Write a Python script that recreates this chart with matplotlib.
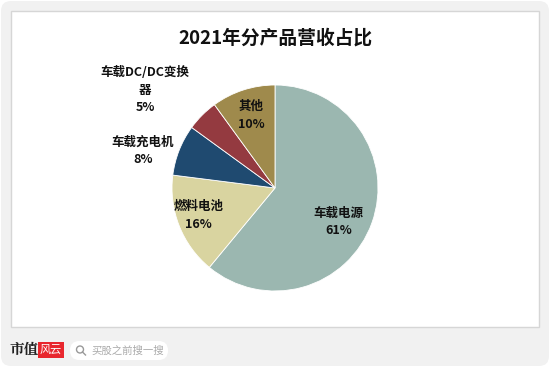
import numpy as np
import matplotlib.pyplot as plt
from matplotlib.patches import FancyBboxPatch, Rectangle

plt.rcParams['font.family'] = ['Noto Sans CJK SC', 'DejaVu Sans']

# data
title = '2021年分产品营收占比'
labels = ['车载电源', '燃料电池', '车载充电机', '车载DC/DC变换\n器', '其他']
shares = [61, 16, 8, 5, 10]
colors = ['#9bb7b0', '#d9d4a0', '#1f4a70', '#943a40', '#9f8a4c']
# label radius (in pie radii) and small angle nudge per slice
label_r = [0.70, 0.79, 1.33, 1.58, 0.74]
label_nudge = [-8.5, -2, 6, 8, 0]

W, H = 550, 367
fig = plt.figure(figsize=(W / 100, H / 100), dpi=100)

# background frame in pixel coords
bg = fig.add_axes([0, 0, 1, 1])
bg.set_xlim(0, W)
bg.set_ylim(H, 0)
bg.axis('off')
bg.add_patch(FancyBboxPatch((1, 1), W - 2, H - 2, boxstyle='round,pad=0,rounding_size=10',
                            fc='#f1f1f1', ec='none'))
bg.add_patch(Rectangle((11, 11), 528, 316, fc='white', ec='#d6d6d6', lw=1))

# faint watermarks
for (x, y) in [(85, 45), (300, 45), (500, 60), (60, 210), (290, 180), (500, 210), (180, 315), (420, 315)]:
    bg.text(x, y, '市值风云', fontsize=16, color='#ececec', rotation=40,
            ha='center', va='center', zorder=0.5)

# bottom bar: logo + search box
bg.text(10, 350, '市值', fontsize=10.5, fontweight='bold', color='#222222',
        ha='left', va='center', family=['Noto Serif CJK SC', 'Noto Sans CJK SC'])
bg.add_patch(Rectangle((38, 342), 26, 16, fc='#e8262d', ec='none'))
bg.text(51, 350, '风云', fontsize=8, color='white', style='italic',
        ha='center', va='center')
bg.add_patch(FancyBboxPatch((70, 341), 98, 19, boxstyle='round,pad=0,rounding_size=9.5',
                            fc='white', ec='none'))
bg.add_patch(plt.Circle((80, 349.5), 3.5, fc='none', ec='#999999', lw=1))
bg.plot([82.5, 85.5], [352, 355], color='#999999', lw=1)
bg.text(91, 350.5, '买股之前搜一搜', fontsize=7.5, color='#aaaaaa', ha='left', va='center')

bg.text(W / 2, 38, title, fontsize=13.5, fontweight='bold', color='#111111',
        ha='center', va='center')

# pie
cx, cy, R = 275, 188, 103
ax = fig.add_axes([(cx - R) / W, 1 - (cy + R) / H, 2 * R / W, 2 * R / H])
wedges, _ = ax.pie(shares, colors=colors, startangle=90, counterclock=False, radius=1,
                   wedgeprops=dict(edgecolor='white', linewidth=0.6))
ax.set_xlim(-1, 1)
ax.set_ylim(-1, 1)
ax.axis('off')

for w, lab, s, r, nd in zip(wedges, labels, shares, label_r, label_nudge):
    ang = np.deg2rad((w.theta1 + w.theta2) / 2 + nd)
    ax.text(r * np.cos(ang), r * np.sin(ang), f'{lab}\n{s}%', fontsize=9,
            fontweight='bold', color='#111111', ha='center', va='center',
            linespacing=1.45, clip_on=False)

fig.savefig('out.png', dpi=100)
